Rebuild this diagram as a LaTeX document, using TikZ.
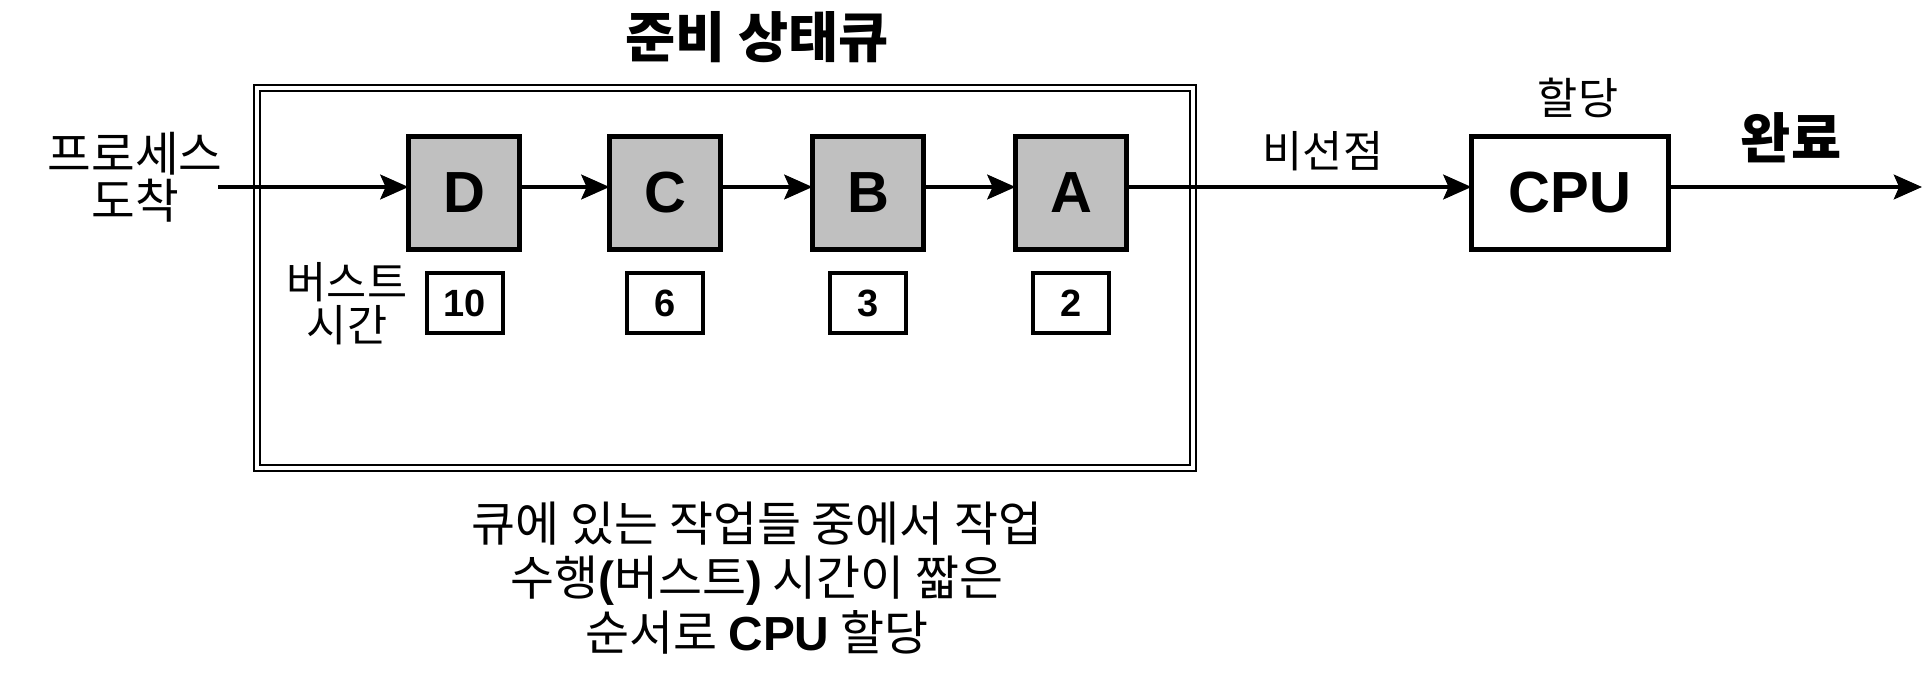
\documentclass[tikz,border=0pt]{standalone}
\usepackage{fontspec}
\setmainfont{Liberation Sans}
\newfontfamily\kr{Noto Sans CJK KR}
\usetikzlibrary{arrows.meta}
\definecolor{procgray}{HTML}{C0C0C0}
\begin{document}
\begin{tikzpicture}[x=0.01cm,y=-0.01cm,
  every node/.style={inner sep=0pt, outer sep=0pt},
  proc/.style={draw, line width=1.3pt, fill=procgray, minimum width=1.11cm, minimum height=1.13cm, font=\fontsize{16.5}{18}\selectfont\bfseries},
  burst/.style={draw, line width=1.2pt, fill=white, minimum width=0.76cm, minimum height=0.60cm, font=\fontsize{10.8}{12}\selectfont\bfseries},
  cpubox/.style={draw, line width=1.3pt, fill=white, minimum width=1.97cm, minimum height=1.13cm, font=\fontsize{16.5}{18}\selectfont\bfseries},
  arr/.style={line width=1.2pt, -{Stealth[length=8pt,width=7pt,inset=1.5pt]}},
  krlabel/.style={font=\kr\fontsize{13.5}{12.2}\selectfont, align=center},
  krsmall/.style={font=\kr\fontsize{12.4}{12.2}\selectfont, align=center},
  krbold/.style={font=\kr\bfseries\fontsize{15.5}{17}\selectfont},
  qline/.style={line width=0.7pt},
]
\useasboundingbox (0,0) rectangle (1924,673);

% ready queue double frame
\draw[qline] (254,85) rectangle (1196,471);
\draw[qline] (260,91) rectangle (1190,465);
\node[krbold] (title) at (757,37) {준비 상태큐};

% processes
\node[proc] (D) at (464,193) {D};
\node[proc] (C) at (665,193) {C};
\node[proc] (B) at (868,193) {B};
\node[proc] (A) at (1071,193) {A};

\node[burst] (bD) at (465,303) {10};
\node[burst] (bC) at (665,303) {6};
\node[burst] (bB) at (868,303) {3};
\node[burst] (bA) at (1071,303) {2};

\node[krsmall] (blabel) at (347,304) {버스트\\시간};

% CPU
\node[cpubox] (cpu) at (1570,193) {CPU};
\node[krsmall] (alloc) at (1578,98) {할당};
\node[krsmall] (nonpre) at (1323,151) {비선점};
\node[krbold] (done) at (1791,138) {완료};

% arrival
\node[krlabel] (arrive) at (135,177) {프로세스\\도착};
\coordinate (in) at (218,187);
\coordinate (out) at (1922,187);

\draw[arr] (in) -- (in -| D.west);
\draw[arr] (D.east |- in) -- (C.west |- in);
\draw[arr] (C.east |- in) -- (B.west |- in);
\draw[arr] (B.east |- in) -- (A.west |- in);
\draw[arr] (A.east |- in) -- (cpu.west |- in);
\draw[arr] (cpu.east |- in) -- (out);

% explanation
\node[font=\kr\fontsize{13.6}{15.4}\selectfont, align=center] (note) at (757,578)
  {큐에 있는 작업들 중에서 작업\\
   수행{\rmfamily\bfseries (}버스트{\rmfamily\bfseries )} 시간이 짧은\\
   순서로 {\rmfamily\bfseries CPU} 할당};
\end{tikzpicture}
\end{document}
